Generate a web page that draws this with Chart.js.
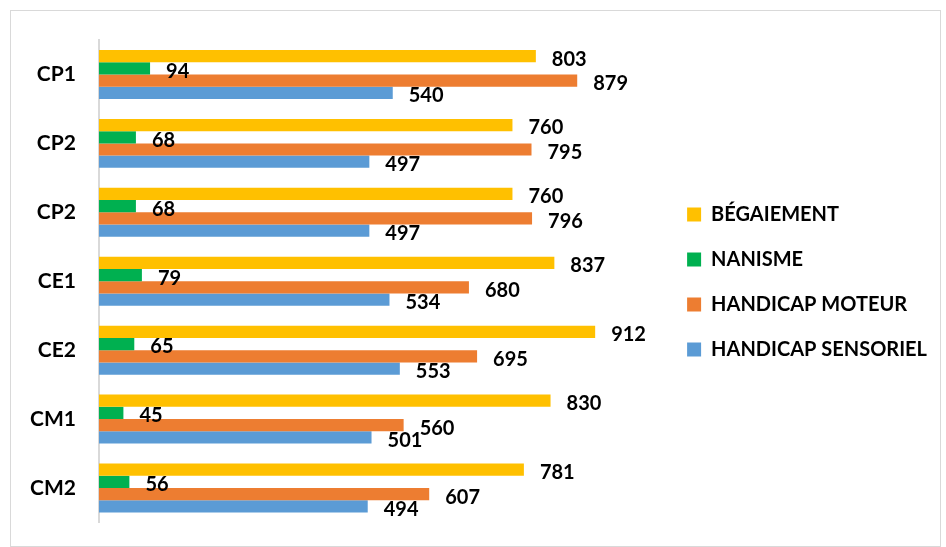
<!DOCTYPE html>
<html>
<head>
<meta charset="utf-8">
<script src="https://cdn.jsdelivr.net/npm/chart.js@4"></script>
<style>
  html, body { margin: 0; padding: 0; background: #fff; }
  #box {
    position: absolute; left: 10px; top: 10px;
    width: 929px; height: 535px;
    border: 1px solid #d9d9d9;
  }
</style>
</head>
<body>
<div id="box"><canvas id="myChart"></canvas></div>
<script>
const labels = ['CP1', 'CP2', 'CP2', 'CE1', 'CE2', 'CM1', 'CM2'];

const begaiement = [803, 760, 760, 837, 912, 830, 781];
const nanisme = [94, 68, 68, 79, 65, 45, 56];
const moteur = [879, 795, 796, 680, 695, 560, 607];
const sensoriel = [540, 497, 497, 534, 553, 501, 494];

const seriesNames = ['BÉGAIEMENT', 'NANISME', 'HANDICAP MOTEUR', 'HANDICAP SENSORIEL'];
const seriesColors = ['#FFC000', '#00B050', '#ED7D31', '#5B9BD5'];

const FONT = 'Lato';

// draws the value next to every bar end
const valueLabels = {
  id: 'valueLabels',
  afterDatasetsDraw(chart) {
    const ctx = chart.ctx;
    ctx.save();
    ctx.font = 'bold 20px ' + FONT;
    ctx.fillStyle = '#000';
    ctx.textBaseline = 'middle';
    chart.data.datasets.forEach(function (ds, i) {
      chart.getDatasetMeta(i).data.forEach(function (bar, j) {
        ctx.fillText(ds.data[j], bar.x + 16, bar.y + 3);
      });
    });
    ctx.restore();
  }
};

const data = {
  labels: labels,
  datasets: [begaiement, nanisme, moteur, sensoriel].map(function (vals, i) {
    return {
      label: seriesNames[i],
      data: vals,
      backgroundColor: seriesColors[i],
      borderWidth: 0,
      categoryPercentage: 0.71,
      barPercentage: 1.0
    };
  })
};

const config = {
  type: 'bar',
  data: data,
  plugins: [valueLabels],
  options: {
    indexAxis: 'y',
    responsive: true,
    maintainAspectRatio: false,
    animation: false,
    layout: { padding: { top: 29, bottom: 22, left: -4, right: 3 } },
    plugins: {
      legend: {
        position: 'right',
        maxWidth: 400,
        labels: {
          boxWidth: 14,
          boxHeight: 14,
          padding: 25,
          color: '#000',
          font: { family: FONT, size: 20, weight: 'bold' }
        }
      },
      tooltip: { enabled: false }
    },
    scales: {
      x: {
        display: false,
        min: 0,
        max: 1035
      },
      y: {
        grid: { display: false, drawTicks: false },
        border: { display: true, color: '#d9d9d9', width: 2 },
        ticks: {
          color: '#000',
          padding: 23,
          autoSkip: false,
          font: { family: FONT, size: 21, weight: 'bold', lineHeight: 0.05 }
        }
      }
    }
  }
};

var ctx = document.getElementById('myChart');
document.fonts.load('bold 20px ' + FONT).then(function () {
  var myChart = new Chart(ctx, config);
});
</script>
</body>
</html>
